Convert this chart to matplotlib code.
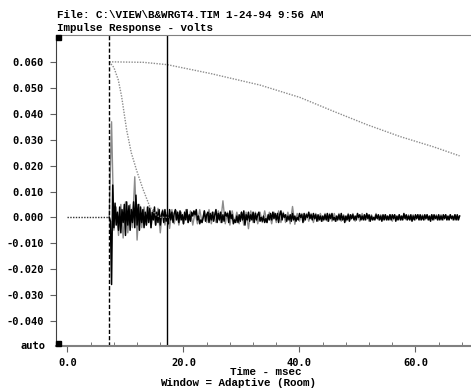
import matplotlib
matplotlib.use("Agg")
import matplotlib.pyplot as plt
from matplotlib.patches import Rectangle
import numpy as np

# ---- data ----
title_line1 = "File: C:\\VIEW\\B&WRGT4.TIM 1-24-94 9:56 AM"
title_line2 = "Impulse Response - volts"
xlabel_line1 = "Time - msec"
xlabel_line2 = "Window = Adaptive (Room)"

x_major_ticks = [0, 20, 40, 60]
x_tick_labels = ["0.0", "20.0", "40.0", "60.0"]
y_ticks = [-0.04, -0.03, -0.02, -0.01, 0.0, 0.01, 0.02, 0.03, 0.04, 0.05, 0.06]
y_tick_labels = ["-0.040", "-0.030", "-0.020", "-0.010", "0.000", "0.010",
                 "0.020", "0.030", "0.040", "0.050", "0.060"]

window_start_ms = 7.2
window_marker_ms = 17.2

pretrigger_t = [0.0, 7.2]
pretrigger_v = [0.0, 0.0]

# black trace (mV), 0.2 ms steps starting at 7.2 ms
black_start_ms = 7.2
black_step_ms = 0.2
black_mv = [
    0, -1.5, -26, 12.5, -4, 5.5, -3, 2, -5, 4,
    -6, 3, -2, 5, -7, 6, -3, 4.5, -5, 3,
    -2, 6, -4, 8.6, -3, 5, -5, 4, -2, 3,
    -4, 2, -3, 4, -2, 3.5, -4, 2, -1, 4,
    -3, 2, -2, 3, -3, 1, 2.5, -2, 3, -1.5,
    1, -2.5, 3, -1, 2, -2, 1.5, 3, -1, 2,
    -2, 2.5, -1, 1, -2.5, 2, -1, 3, -2, 1,
    -1.5, 2, 0.5, 2.5, 1, 3, -1, 0.5, -2.5, -1,
    -2, 0, 2.5, -1.5, 1, 2, -2, 1.5, -1, 2,
    -1.5, 1, 3, -2, 1.5, -1, 2, -2, 1, -1.5,
    2, 0.5, 1.5, -2, 2.5, -0.5, 1, -2.5, -1, -2,
    0.5, -2, 1, -1.5, 2, -1, 2.5, -3, 1, -1,
    2, -1.5, 1, -1, 2, -2, 1.5, -1, 1, 2,
    -1.5, 0, -1.5, 0.5, -2, -0.5, -2, 1, -1, 1.5,
    -1, 2, -0.5, 1.5, -1, 1.5, -2, 1, 2.5, -1,
    1.5, 0, 1, -1.5, 0.5, -1, 1, -1.5, 1.5, -1,
    0.5, -1.5, 0, -1, 1.5, 0, 1, -2, 1.5, -1,
    1, 0, 2, -0.5, 1, -1, 1.5, -0.5, 1, -1.5,
    1, -1, 0.5, -1.5, 0.5, -1, 1, -1, 1.5, -1.5,
    1, -0.5, 1.5, -1, 0, -1.5, 0.5, -1, 1, -1,
    1.5, -1, 0.5, -2, 0.5, -1, 1, -1.5, 1, -0.5,
    1, -1, 0.5, -1, 1.5, 0, 1, -1, 0.5, -1,
    1, -1, 1.5, -0.5, 1, -1.5, 0.5, -1, 0, -1,
    1, -0.5, 1, -1, 0.5, -1.5, 1, -1, 1, -1,
    0.5, -1, 1, -1, 1, -0.5, 1, -1.5, 0.5, -1,
    1, -1, 0.5, -1, 1.5, -0.5, 1, -1, 0.5, -1,
    1, -1.5, 0.5, -1, 1, -0.5, 1, -1, 1, -1,
    0.5, -1, 1, -0.5, 1, -1, 0.5, -1.5, 1, -1,
    1, -0.5, 0.5, -1, 1, -1, 0.5, -1, 1, -0.5,
    1, -1, 0.5, -1, 1, -0.5, 0.5, -1, 1, -1,
    1, -1, 0.5,
]

# gray trace (mV), 0.4 ms steps starting at 7.2 ms
gray_start_ms = 7.2
gray_step_ms = 0.4
gray_mv = [
    0, 37, -5, 4, -7, 5, -8, 6, -6, 5,
    -4, 15.7, -8.8, 5, -4, 4, -3, 4, -4, 3,
    -3, 3.5, -6, 3, -3, 2, -4.3, 3, -2.5, 2.5,
    -3, 2, -2.5, 3, -2, 2.5, -3, 2, -2.5, 3,
    -2, 2.5, -2, 3, -2.5, 2, -2, 2.5, -2, 6.4,
    -2.5, 2, -3, 2.5, -2, 2, -2.5, 2, -3, 2,
    -4.4, 2.5, -2, 2, -2.5, 2, -2, 2.5, -2, 2,
    -2.5, 2, -2, 2.5, -2, 2, -2, 2, -2.5, 4.2,
    -2.7, 1.5, -1.5, 1.5, -1.5, 1.5, -1.5, 1.5, -2, 1.5,
    -1.5, 1.5, -1.5, 1.5, -1.5, 1.5, -1.5, 1.5, -1.5, 1.5,
    -1.5, 1, -1.5, 1.5, -1, 1.5, -1.5, 1, -1.5, 1.5,
    -1, 1, -1.5, 1, -1, 1.5, -1, 1, -1, 1,
    -1, 1, -1.5, 1, -1, 1, -1, 1, -1, 1,
    -1, 1, -1, 1, -1, 1, -1, 1, -1, 1,
    -1, 1, -1, 1, -1, 1, -1, 1, -1, 1,
    -1, 0.5,
]

# fast-decaying window curve
fast_t = [7.2, 8.0, 8.76, 9.34, 10.2, 11.0, 11.9, 13.0, 14.2, 15.2, 16.0, 17.5]
fast_v = [0.0602, 0.0580, 0.0532, 0.0467, 0.0338, 0.0250, 0.0183, 0.0110,
          0.0041, 0.0010, 0.0, 0.0]

# slow-decaying window curve
slow_t = [7.2, 13.1, 17.2, 24.6, 33.2, 40.1, 45.8, 51.6, 57.3, 63.1, 67.6]
slow_v = [0.0602, 0.0600, 0.0591, 0.0557, 0.0512, 0.0464, 0.0411, 0.0359,
          0.0313, 0.0273, 0.0238]

# ---- figure ----
W, H, DPI = 471, 390, 100
fig = plt.figure(figsize=(W / DPI, H / DPI), dpi=DPI)
fig.patch.set_facecolor("white")

ax_l, ax_r, ax_t, ax_b = 56, 471, 35, 346
ax = fig.add_axes([ax_l / W, 1 - ax_b / H, (ax_r - ax_l) / W, (ax_b - ax_t) / H])
ax.set_xlim(-1.98, 69.57)
ax.set_ylim(-0.0498, 0.07058)

black_t = black_start_ms + black_step_ms * np.arange(len(black_mv))
gray_t = gray_start_ms + gray_step_ms * np.arange(len(gray_mv))

ax.plot(pretrigger_t, pretrigger_v, color="#333333", lw=1.0, ls=(0, (1, 1)))
ax.plot(gray_t, np.array(gray_mv) / 1000.0, color="#8c8c8c", lw=1.0)
ax.plot(black_t, np.array(black_mv) / 1000.0, color="black", lw=1.1)
ax.plot(fast_t, fast_v, color="#8c8c8c", lw=1.0, ls=(0, (1, 1)))
ax.plot(slow_t, slow_v, color="#8c8c8c", lw=1.0, ls=(0, (1, 1)))

ax.axvline(window_start_ms, color="black", lw=1.0, ls=(0, (3, 1.5)))
ax.axvline(window_marker_ms, color="black", lw=1.0)

# spines
ax.spines["right"].set_visible(False)
ax.spines["left"].set_color("#404040")
ax.spines["bottom"].set_color("#808080")
ax.spines["bottom"].set_linewidth(1.5)
ax.spines["top"].set_color("#808080")

tick_font = dict(family="DejaVu Sans Mono", weight="bold", size=7.5)
ax.set_xticks(x_major_ticks)
ax.set_xticklabels(x_tick_labels, **tick_font)
ax.set_xticks(np.arange(4, 70, 4), minor=True)
ax.set_yticks(y_ticks)
ax.set_yticklabels(y_tick_labels, **tick_font)
ax.tick_params(axis="x", which="major", direction="out", length=4, color="#606060", pad=5)
ax.tick_params(axis="x", which="minor", direction="in", length=3, color="#606060")
ax.tick_params(axis="y", which="major", direction="out", length=4, color="#606060", pad=5)

ax.text(-0.025, -0.0498, "auto", transform=ax.get_yaxis_transform(),
        ha="right", va="center", **tick_font)

# corner squares
sq_w = 5 / (ax_r - ax_l)
sq_h = 5 / (ax_b - ax_t)
ax.add_patch(Rectangle((0, 1 - sq_h), sq_w, sq_h, transform=ax.transAxes,
                       color="black", clip_on=False, zorder=5))
ax.add_patch(Rectangle((0, 0), sq_w, sq_h, transform=ax.transAxes,
                       color="black", clip_on=False, zorder=5))

title_font = dict(family="Liberation Mono", weight="bold", size=7.8)
fig.text(57 / W, 1 - 15.5 / H, title_line1, ha="left", va="center", **title_font)
fig.text(57 / W, 1 - 28 / H, title_line2, ha="left", va="center", **title_font)
fig.text(266 / W, 1 - 372 / H, xlabel_line1, ha="center", va="center", **title_font)
fig.text(237.7 / W, 1 - 382.5 / H, xlabel_line2, ha="center", va="center", **title_font)

fig.savefig("out.png", dpi=DPI, facecolor="white")
